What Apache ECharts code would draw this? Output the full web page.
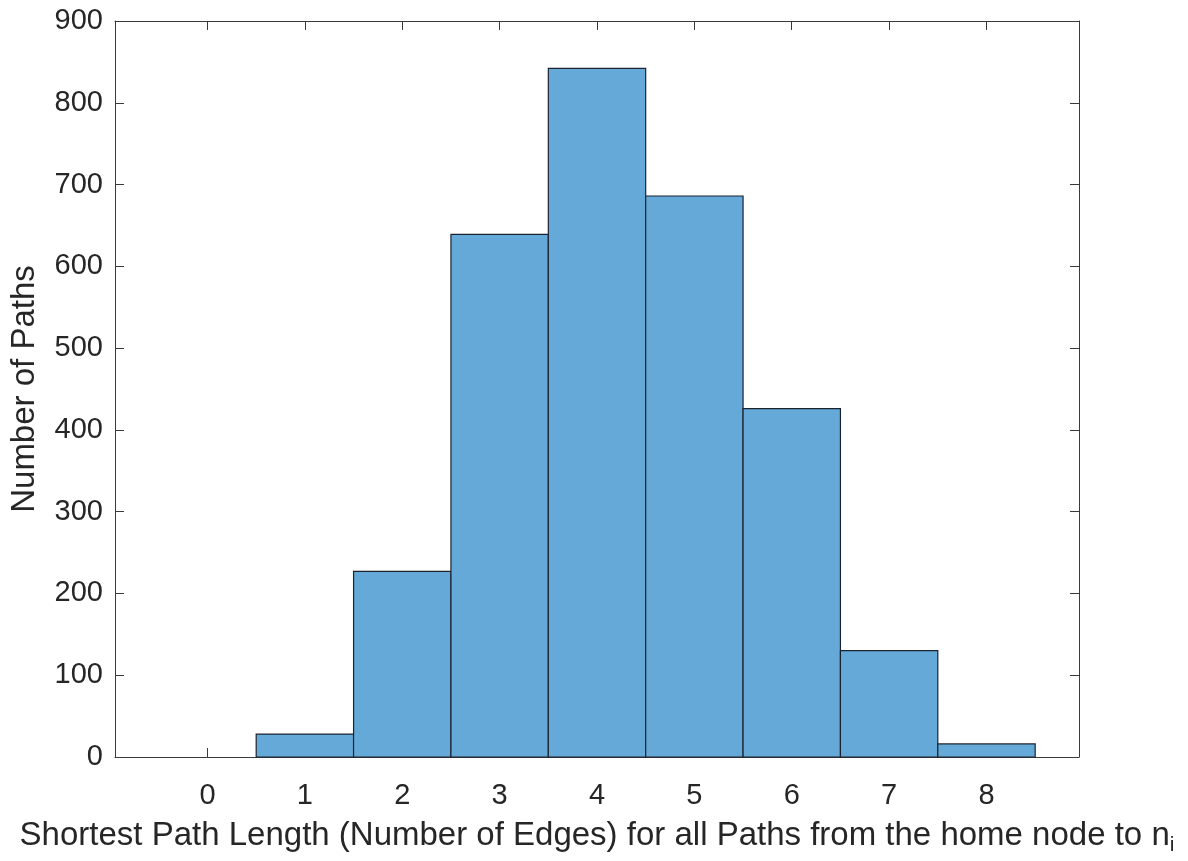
<!DOCTYPE html>
<html>
<head>
<meta charset="utf-8">
<script src="https://cdn.jsdelivr.net/npm/echarts@6/dist/echarts.min.js"></script>
<style>html,body{margin:0;padding:0;background:#fff;}#c{width:1188px;height:861px;}</style>
</head>
<body>
<div id="c"></div>
<script>
var pathLengths = [0, 1, 2, 3, 4, 5, 6, 7, 8];
var pathCounts = [0, 28, 227, 639, 842, 686, 426, 130, 16];
var xTicks = [0, 1, 2, 3, 4, 5, 6, 7, 8];
var yTicks = [0, 100, 200, 300, 400, 500, 600, 700, 800, 900];

var chart = echarts.init(document.getElementById('c'), null, {renderer: 'canvas'});
var txt = '#262626';
var axisCol = '#3a3a3a';
var font = 'Liberation Sans, Arial, Helvetica, sans-serif';
var data = pathLengths.map(function (x, i) { return [x, pathCounts[i]]; });

var xBase = {
  type: 'value', min: -0.95, max: 8.95,
  axisLine: {show: true, onZero: false, lineStyle: {color: axisCol, width: 1}},
  axisTick: {show: true, inside: true, length: 9, customValues: xTicks, lineStyle: {color: axisCol}},
  splitLine: {show: false}
};
var yBase = {
  type: 'value', min: 0, max: 900, interval: 100,
  axisLine: {show: true, onZero: false, lineStyle: {color: axisCol, width: 1}},
  axisTick: {show: true, inside: true, length: 9, lineStyle: {color: axisCol}},
  splitLine: {show: false}
};

chart.setOption({
  animation: false,
  backgroundColor: '#fff',
  textStyle: {fontFamily: font},
  grid: {left: 114, right: 109, top: 21, bottom: 99, containLabel: false},
  xAxis: [
    Object.assign({}, xBase, {
      position: 'bottom',
      axisLabel: {show: true, customValues: xTicks, color: txt, fontSize: 29, margin: 24, fontFamily: font},
      name: 'Shortest Path Length (Number of Edges) for all Paths from the home node to n{sub|i}',
      nameLocation: 'middle', nameGap: 58,
      nameTextStyle: {color: txt, fontSize: 33, fontFamily: font,
        rich: {sub: {fontSize: 21, color: txt, fontFamily: font, padding: [20, 0, 0, 0]}}}
    }),
    Object.assign({}, xBase, {position: 'top', axisLabel: {show: false}})
  ],
  yAxis: [
    Object.assign({}, yBase, {
      position: 'left',
      axisLabel: {show: true, color: txt, fontSize: 29, margin: 12, fontFamily: font},
      name: 'Number of Paths', nameLocation: 'middle', nameGap: 74,
      nameTextStyle: {color: txt, fontSize: 33, fontFamily: font}
    }),
    Object.assign({}, yBase, {position: 'right', axisLabel: {show: false}})
  ],
  series: [{
    type: 'custom',
    xAxisIndex: 0, yAxisIndex: 0,
    data: data,
    renderItem: function (params, api) {
      var x = api.value(0), y = api.value(1);
      if (!y) return null;
      var p1 = api.coord([x - 0.5, y]);
      var p2 = api.coord([x + 0.5, 0]);
      return {
        type: 'rect',
        shape: {x: p1[0], y: p1[1], width: p2[0] - p1[0], height: p2[1] - p1[1]},
        style: {fill: '#64a9d7', stroke: '#1c2330', lineWidth: 1.2}
      };
    }
  }]
});
</script>
</body>
</html>
